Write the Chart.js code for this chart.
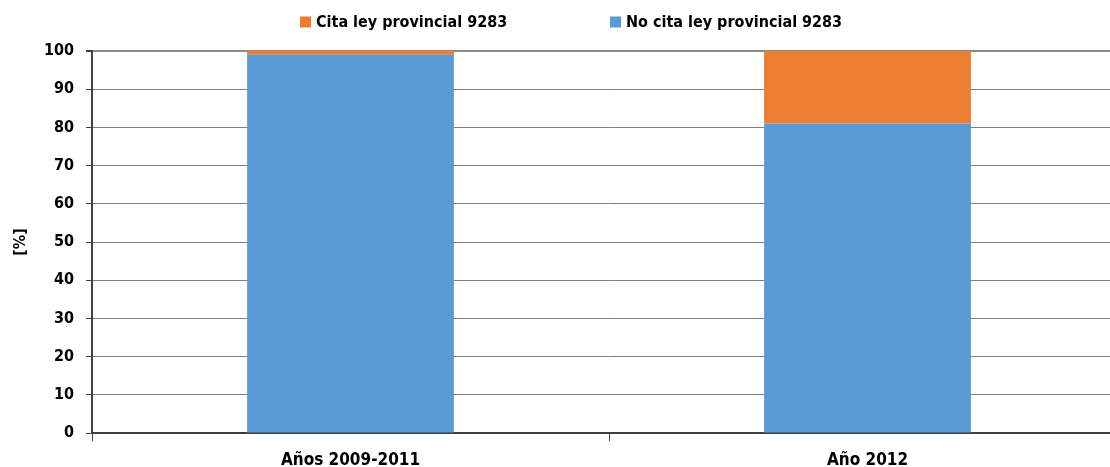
<!DOCTYPE html>
<html>
<head>
<meta charset="utf-8">
<script src="https://cdn.jsdelivr.net/npm/chart.js@4/dist/chart.umd.min.js"></script>
<style>
  html, body { margin: 0; padding: 0; background: #fff; overflow: hidden; }
  /* el lienzo es algo más ancho: el área de trazado sigue más allá del borde */
  #wrap { width: 1110px; height: 467px; overflow: hidden; }
  #leyChart { display: block; }
</style>
</head>
<body>
<div id="wrap"><canvas id="leyChart" width="1126" height="467"></canvas></div>
<script>
// Categorías y porcentajes por período
const periodos = ['Años 2009-2011', 'Año 2012'];
const noCita = [99, 81];
const cita = [1, 19];
const ticksY = [0, 10, 20, 30, 40, 50, 60, 70, 80, 90, 100];

const FONT = "'Liberation Sans Narrow', 'DejaVu Sans Condensed', 'Liberation Sans', sans-serif";

// Leyenda dibujada a mano para poder separar los ítems como en el original
const leyenda = {
  id: 'leyenda',
  afterDraw(chart) {
    const c = chart.ctx;
    const items = chart.data.datasets.slice().reverse();
    c.save();
    c.font = 'bold 16px ' + FONT;
    c.textBaseline = 'middle';
    const box = 11, gapTxt = 5, paso = 310;
    let x = 300;
    const y = 22;
    items.forEach(d => {
      c.fillStyle = d.backgroundColor;
      c.fillRect(x, y - box / 2, box, box);
      c.fillStyle = '#000';
      c.fillText(d.label, x + box + gapTxt, y + 1);
      x += paso;
    });
    c.restore();
  }
};

const ctx = document.getElementById('leyChart').getContext('2d');
new Chart(ctx, {
  type: 'bar',
  data: {
    labels: periodos,
    datasets: [
      {
        label: 'No cita ley provincial 9283',
        data: noCita,
        backgroundColor: '#5b9bd5',
        barPercentage: 0.4,
        categoryPercentage: 1
      },
      {
        label: 'Cita ley provincial 9283',
        data: cita,
        backgroundColor: '#ed7d31',
        barPercentage: 0.4,
        categoryPercentage: 1
      }
    ]
  },
  options: {
    responsive: false,
    animation: false,
    layout: { padding: { top: 51, right: 0, left: 0, bottom: 0 } },
    plugins: {
      legend: { display: false },
      tooltip: { enabled: false }
    },
    scales: {
      x: {
        stacked: true,
        offset: true,
        afterFit(s) { s.height = 34; },
        grid: {
          offset: true,
          drawOnChartArea: false,
          drawTicks: true,
          tickLength: 8,
          color: '#404040',
          lineWidth: 1
        },
        border: { color: '#404040', width: 2 },
        ticks: {
          color: '#000',
          padding: 9,
          font: { family: FONT, size: 17, weight: 'bold' }
        }
      },
      y: {
        stacked: true,
        min: 0,
        max: 100,
        afterFit(s) { s.width = 92; },
        afterBuildTicks(s) { s.ticks = ticksY.map(v => ({ value: v })); },
        grid: {
          color: ctx => ctx.tick && ctx.tick.value === 100 ? '#8c8c8c' : '#7f7f7f',
          lineWidth: ctx => ctx.tick && ctx.tick.value === 100 ? 2 : 1,
          tickLength: 6,
          tickColor: '#404040'
        },
        border: { color: '#404040', width: 2 },
        ticks: {
          color: '#000',
          padding: 12,
          font: { family: FONT, size: 16, weight: 'bold' }
        },
        title: {
          display: true,
          text: '[%]',
          color: '#000',
          padding: { top: 11, bottom: 20 },
          font: { family: FONT, size: 16, weight: 'bold' }
        }
      }
    }
  },
  plugins: [leyenda]
});
</script>
</body>
</html>
